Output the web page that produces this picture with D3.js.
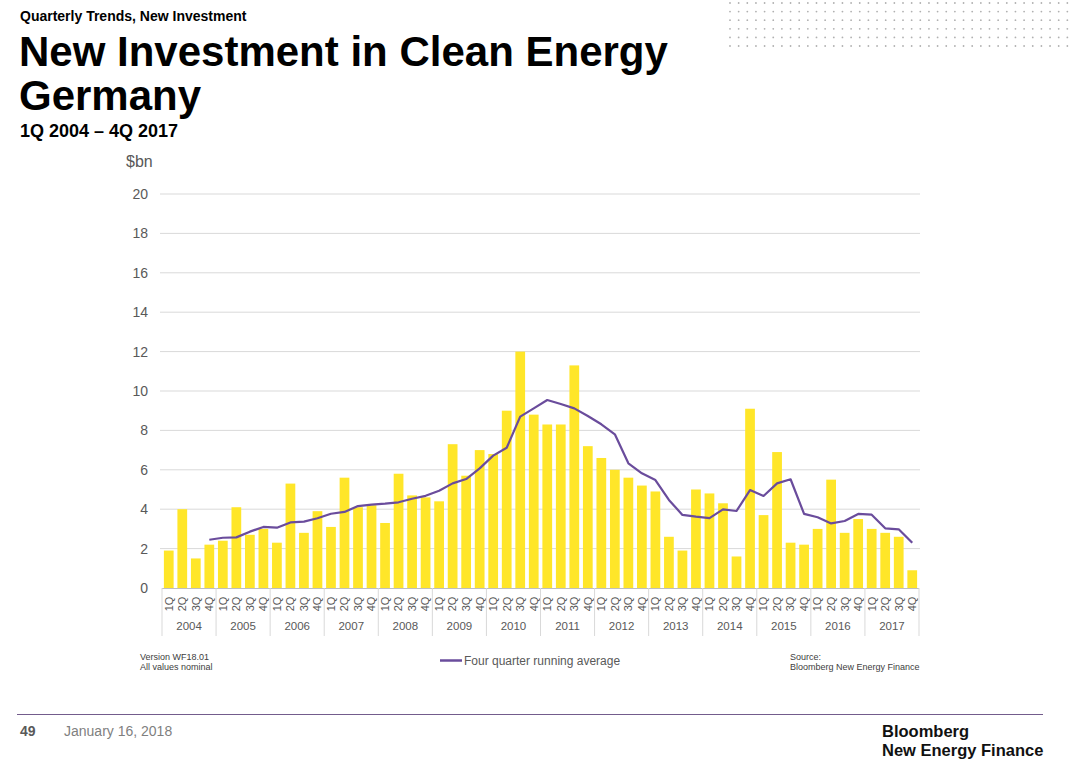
<!DOCTYPE html>
<html lang="en">
    <head>
        <meta charset="utf-8">
        <title>New Investment in Clean Energy Germany</title>
        <script src="https://cdn.jsdelivr.net/npm/d3@7"></script>
        <style type="text/css">
            body { margin: 0; background: #fff; }
            svg { font-family: "Liberation Sans", Arial, sans-serif; }
            .narrow { font-family: "Liberation Sans Narrow", "Arial Narrow", "Liberation Sans", sans-serif; }
        </style>
    </head>
    <body>
        <script type="text/javascript">
        // Data ($bn per quarter)
        var years = [2004, 2005, 2006, 2007, 2008, 2009, 2010, 2011, 2012, 2013, 2014, 2015, 2016, 2017];
        var quarters = ["1Q", "2Q", "3Q", "4Q"];
        var investment = [
            1.9, 4.0, 1.5, 2.2,
            2.4, 4.1, 2.7, 3.0,
            2.3, 5.3, 2.8, 3.9,
            3.1, 5.6, 4.1, 4.2,
            3.3, 5.8, 4.7, 4.6,
            4.4, 7.3, 5.7, 7.0,
            6.8, 9.0, 12.0, 8.8,
            8.3, 8.3, 11.3, 7.2,
            6.6, 6.0, 5.6, 5.2,
            4.9, 2.6, 1.9, 5.0,
            4.8, 4.3, 1.6, 9.1,
            3.7, 6.9, 2.3, 2.2,
            3.0, 5.5, 2.8, 3.5,
            3.0, 2.8, 2.6, 0.9
        ];
        var runningAvg = [
            null, null, null, 2.45,
            2.55, 2.57, 2.86, 3.10,
            3.06, 3.33, 3.37, 3.54,
            3.77, 3.86, 4.16, 4.23,
            4.28, 4.35, 4.53, 4.68,
            4.94, 5.31, 5.53, 6.07,
            6.72, 7.12, 8.70, 9.12,
            9.54, 9.34, 9.12, 8.73,
            8.31, 7.80, 6.33, 5.82,
            5.48, 4.47, 3.71, 3.62,
            3.55, 3.99, 3.91, 4.97,
            4.67, 5.31, 5.52, 3.76,
            3.59, 3.28, 3.40, 3.76,
            3.72, 3.03, 2.98, 2.30
        ];
        var yTicks = [0, 2, 4, 6, 8, 10, 12, 14, 16, 18, 20];

        var svgWidth = 1080, svgHeight = 764;
        var plotLeft = 162, plotRight = 919, plotTop = 194, plotBottom = 588;
        var barColor = "#ffe629", lineColor = "#6a4c9c", textGray = "#595959";

        // build one row per quarter
        var rows = [];
        years.forEach(function(yr, yi) {
            quarters.forEach(function(q, qi) {
                var i = yi * 4 + qi;
                rows.push({ key: yr + "-" + q, year: yr, q: q, value: investment[i], avg: runningAvg[i] });
            });
        });

        var svg = d3.select("body")
            .append("svg")
            .attr("width", svgWidth)
            .attr("height", svgHeight);

        // decorative dot grid, top right
        var dots = [];
        for (var r = 0; r < 6; r++) {
            for (var c = 0; c < 40; c++) {
                dots.push([730 + c * 8.65, 3 + r * 8.6]);
            }
        }
        svg.append("g").selectAll("circle")
            .data(dots)
            .enter()
            .append("circle")
            .attr("cx", function(d) { return d[0]; })
            .attr("cy", function(d) { return d[1]; })
            .attr("r", 0.9)
            .attr("fill", "#b0b0b0");

        // titles
        svg.append("text").attr("x", 20).attr("y", 21)
            .attr("font-size", "14px").attr("font-weight", "bold")
            .text("Quarterly Trends, New Investment");
        svg.append("text").attr("x", 19).attr("y", 66)
            .attr("font-size", "42px").attr("font-weight", "bold")
            .text("New Investment in Clean Energy");
        svg.append("text").attr("x", 19).attr("y", 110)
            .attr("font-size", "42px").attr("font-weight", "bold")
            .text("Germany");
        svg.append("text").attr("x", 20).attr("y", 137)
            .attr("font-size", "18px").attr("font-weight", "bold")
            .text("1Q 2004 \u2013 4Q 2017");

        // scales
        var x = d3.scaleBand()
            .domain(rows.map(function(d) { return d.key; }))
            .range([plotLeft, plotRight])
            .paddingInner(0.28)
            .paddingOuter(0.14);
        var xYear = d3.scaleBand()
            .domain(years)
            .range([plotLeft, plotRight]);
        var y = d3.scaleLinear()
            .domain([0, 20])
            .range([plotBottom, plotTop]);

        // gridlines + y labels
        svg.append("g").selectAll("line")
            .data(yTicks.filter(function(d) { return d > 0; }))
            .enter()
            .append("line")
            .attr("x1", plotLeft - 2).attr("x2", plotRight + 1)
            .attr("y1", function(d) { return y(d); })
            .attr("y2", function(d) { return y(d); })
            .attr("stroke", "#d9d9d9")
            .attr("stroke-width", 1);

        svg.append("g").selectAll("text")
            .data(yTicks)
            .enter()
            .append("text")
            .attr("x", 148)
            .attr("y", function(d) { return y(d); })
            .attr("dy", "0.35em")
            .attr("text-anchor", "end")
            .attr("font-size", "14px")
            .attr("fill", textGray)
            .text(function(d) { return d; });

        svg.append("text").attr("x", 126).attr("y", 167)
            .attr("font-size", "16px").attr("fill", textGray)
            .text("$bn");

        // bars
        svg.append("g").selectAll("rect")
            .data(rows)
            .enter()
            .append("rect")
            .attr("x", function(d) { return x(d.key); })
            .attr("y", function(d) { return y(d.value); })
            .attr("width", x.bandwidth())
            .attr("height", function(d) { return y(0) - y(d.value); })
            .attr("fill", barColor);

        // axis line
        svg.append("line")
            .attr("x1", plotLeft).attr("x2", plotRight)
            .attr("y1", plotBottom + 0.5).attr("y2", plotBottom + 0.5)
            .attr("stroke", "#bfbfbf");

        // running average line
        var line = d3.line()
            .defined(function(d) { return d.avg != null; })
            .x(function(d) { return x(d.key) + x.bandwidth() / 2; })
            .y(function(d) { return y(d.avg); });
        svg.append("path")
            .datum(rows)
            .attr("d", line)
            .attr("fill", "none")
            .attr("stroke", lineColor)
            .attr("stroke-width", 2.2)
            .attr("stroke-linejoin", "round");

        // quarter labels, rotated
        svg.append("g").selectAll("text")
            .data(rows)
            .enter()
            .append("text")
            .attr("transform", function(d) {
                return "translate(" + (x(d.key) + x.bandwidth() / 2) + "," + 604 + ") rotate(-90)";
            })
            .attr("dy", "0.35em")
            .attr("text-anchor", "middle")
            .attr("font-size", "11px")
            .attr("fill", textGray)
            .text(function(d) { return d.q; });

        // year separators + labels
        svg.append("g").selectAll("line")
            .data(years.concat(["end"]))
            .enter()
            .append("line")
            .attr("x1", function(d) { return d === "end" ? plotRight : xYear(d); })
            .attr("x2", function(d) { return d === "end" ? plotRight : xYear(d); })
            .attr("y1", plotBottom)
            .attr("y2", 636)
            .attr("stroke", "#d9d9d9");

        svg.append("g").selectAll("text")
            .data(years)
            .enter()
            .append("text")
            .attr("x", function(d) { return xYear(d) + xYear.bandwidth() / 2; })
            .attr("y", 630)
            .attr("text-anchor", "middle")
            .attr("font-size", "11.5px")
            .attr("fill", textGray)
            .text(function(d) { return d; });

        // notes and legend
        var notes = svg.append("g").attr("class", "narrow").attr("font-size", "9px").attr("fill", "#404040");
        notes.append("text").attr("x", 140).attr("y", 660).text("Version WF18.01");
        notes.append("text").attr("x", 140).attr("y", 670).text("All values nominal");
        notes.append("text").attr("x", 790).attr("y", 660).text("Source:");
        notes.append("text").attr("x", 790).attr("y", 670).text("Bloomberg New Energy Finance");

        svg.append("line")
            .attr("x1", 440).attr("x2", 462)
            .attr("y1", 660.5).attr("y2", 660.5)
            .attr("stroke", lineColor).attr("stroke-width", 2.5);
        svg.append("text").attr("x", 464).attr("y", 665)
            .attr("font-size", "12px").attr("fill", textGray)
            .text("Four quarter running average");

        // footer
        svg.append("line")
            .attr("x1", 17).attr("x2", 1043)
            .attr("y1", 714.5).attr("y2", 714.5)
            .attr("stroke", "#735c8c").attr("stroke-width", 1.2);
        svg.append("text").attr("x", 20).attr("y", 736)
            .attr("font-size", "14px").attr("font-weight", "bold").attr("fill", textGray)
            .text("49");
        svg.append("text").attr("x", 64).attr("y", 736)
            .attr("font-size", "14px").attr("fill", "#7f7f7f")
            .text("January 16, 2018");
        svg.append("text").attr("x", 882).attr("y", 737)
            .attr("font-size", "16.5px").attr("font-weight", "bold").attr("fill", "#111")
            .text("Bloomberg");
        svg.append("text").attr("x", 882).attr("y", 756)
            .attr("font-size", "16.5px").attr("font-weight", "bold").attr("fill", "#111")
            .text("New Energy Finance");
        </script>
    </body>
</html>
